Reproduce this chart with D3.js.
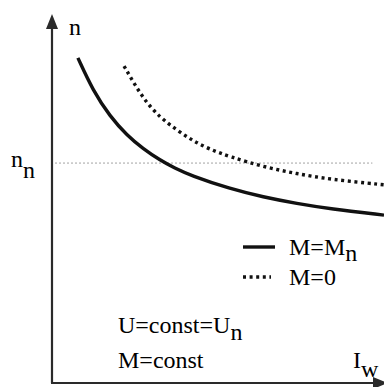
<!DOCTYPE html>
<html><head><meta charset="utf-8"><script src="https://cdn.jsdelivr.net/npm/d3@7"></script></head>
<body style="margin:0">
<script>
// n = f(Iw) curves, axis units 0..100 (no ticks in original)
const ratedX = [7.8, 12.3, 17.5, 22.6, 27.4, 32.5, 37.0, 41.6, 53.6, 63.6, 73.8, 83.7, 100];
const ratedY = [88.1, 79.3, 72.2, 67.1, 63.5, 60.4, 58.2, 56.3, 52.6, 50.4, 48.6, 47.2, 45.5];

const idleX = [21.7, 27.4, 32.5, 37.7, 42.5, 47.6, 53.6, 63.6, 73.8, 83.7, 100];
const idleY = [85.9, 77.0, 72.0, 68.5, 65.6, 63.3, 61.3, 58.6, 56.7, 55.2, 53.7];

const nRated = 59.6;   // n_n reference level
const refEnd = 96.5;   // dashed line end on x

const legendItems = [
    { label: 'M=M', sub: 'n', dash: null },
    { label: 'M=0', sub: '', dash: '3,3.6' }
];
const noteLines = [
    { label: 'U=const=U', sub: 'n', y: 333 },
    { label: 'M=const', sub: '', y: 368 }
];

const width = 384, height = 387;

const svg = d3.select('body').append('svg')
    .attr('width', width)
    .attr('height', height);

const xScale = d3.scaleLinear().domain([0, 100]).range([52, 384]);
const yScale = d3.scaleLinear().domain([0, 100]).range([383, 14]);

const axisColor = '#2a2a2a';

// axes
svg.append('line')
    .attr('x1', xScale(0)).attr('y1', yScale(0))
    .attr('x2', xScale(0)).attr('y2', yScale(100) + 10)
    .style('stroke', axisColor).style('stroke-width', 2.2);
svg.append('path')
    .attr('d', `M${xScale(0)},${yScale(100)} L${xScale(0) - 6},${yScale(100) + 15} L${xScale(0) + 6},${yScale(100) + 15} Z`)
    .style('fill', axisColor);

svg.append('line')
    .attr('x1', xScale(0) - 1).attr('y1', yScale(0))
    .attr('x2', xScale(100) - 6).attr('y2', yScale(0))
    .style('stroke', axisColor).style('stroke-width', 2.2);
svg.append('path')
    .attr('d', `M${xScale(100) + 4},${yScale(0)} L${xScale(100) - 11},${yScale(0) - 6} L${xScale(100) - 11},${yScale(0) + 6} Z`)
    .style('fill', axisColor);

// n_n reference line
svg.append('line')
    .attr('x1', xScale(0) + 3).attr('y1', yScale(nRated))
    .attr('x2', xScale(refEnd)).attr('y2', yScale(nRated))
    .style('stroke', '#999').style('stroke-width', 0.9)
    .style('stroke-dasharray', '2,2');

const line = d3.line()
    .x(d => xScale(d[0]))
    .y(d => yScale(d[1]))
    .curve(d3.curveBasis);

svg.append('path')
    .datum(ratedX.map((x, i) => [x, ratedY[i]]))
    .attr('d', line)
    .style('fill', 'none')
    .style('stroke', '#111')
    .style('stroke-width', 3.4);

svg.append('path')
    .datum(idleX.map((x, i) => [x, idleY[i]]))
    .attr('d', line)
    .style('fill', 'none')
    .style('stroke', '#111')
    .style('stroke-width', 3.4)
    .style('stroke-dasharray', '3,3.6');

// text + subscript as separate text nodes
function subText(x, y, main, sub, dy) {
    const t = svg.append('text')
        .attr('x', x).attr('y', y)
        .style('font-family', '"Liberation Serif"')
        .style('font-size', '24px')
        .text(main);
    if (sub) {
        const w = t.node().getComputedTextLength();
        svg.append('text')
            .attr('x', x + w).attr('y', y + dy)
            .style('font-family', '"Liberation Serif"')
            .style('font-size', '24px')
            .text(sub);
    }
}

// axis labels
subText(69, 35, 'n', '');
subText(11, 167, 'n', 'n', 11);
subText(353, 368, 'I', 'w', 9);

// legend
legendItems.forEach((d, i) => {
    const ly = 247 + i * 30;
    svg.append('line')
        .attr('x1', 243).attr('y1', ly)
        .attr('x2', d.dash ? 271 : 275).attr('y2', ly)
        .style('stroke', '#111')
        .style('stroke-width', 3.4)
        .style('stroke-dasharray', d.dash);
    subText(289, ly + 8, d.label, d.sub, 6);
});

// notes
noteLines.forEach(d => {
    subText(118, d.y, d.label, d.sub, 7);
});
</script>
</body>
</html>
